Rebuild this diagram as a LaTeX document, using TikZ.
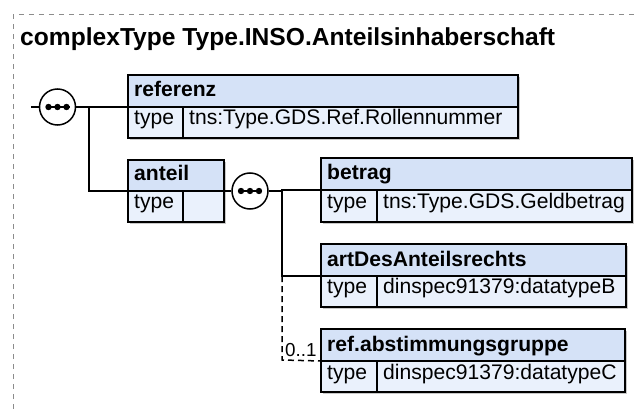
\documentclass[tikz,border=0pt]{standalone}
\usepackage{fontspec}
\setmainfont{Liberation Sans}
\definecolor{hdrc}{HTML}{D5E2F7}
\definecolor{bodyc}{HTML}{EAF1FC}
\definecolor{shadc}{HTML}{C8C8C8}
\definecolor{framec}{HTML}{8C8C8C}
\tikzset{
  conn/.style={line width=1.5pt, black},
  optconn/.style={line width=1.5pt, black, dash pattern=on 6pt off 4pt},
  boxline/.style={line width=1.5pt, black},
  lbl/.style={inner sep=0pt, anchor=base west, font=\fontsize{21.1}{24}\selectfont},
  seqc/.style={circle, draw, line width=1.5pt, fill=white, minimum size=36pt, inner sep=0pt},
}
\newcommand{\Elem}[9]{%
  \fill[shadc] (#2+2,#5+2) rectangle (#3+2,#7+2);
  \draw[boxline, fill=hdrc] (#2,#5) rectangle (#3,#6);
  \draw[boxline, fill=bodyc] (#2,#6) rectangle (#3,#7);
  \draw[boxline] (#4,#6) -- (#4,#7);
  \node[lbl] (#1-n) at (#2+6,#6-10) {\bfseries #8};
  \node[lbl] (#1-t) at (#2+6,#7-13) {type};
  \node[lbl] (#1-v) at (#4+6,#7-13) {#9};
  \coordinate (#1-l) at (#2,#6);
  \coordinate (#1-r) at (#3,#6);
}
\newcommand{\SeqDots}[1]{%
  \draw[line width=1.5pt] ($(#1)+(-12,0)$) -- ($(#1)+(12,0)$);
  \fill ($(#1)+(-9,0)$) circle (3.2);
  \fill (#1) circle (3.2);
  \fill ($(#1)+(9,0)$) circle (3.2);
}
\usetikzlibrary{calc}
\begin{document}
\begin{tikzpicture}[x=1pt,y=-1pt]
\useasboundingbox (0,0) rectangle (638,409);
% frame
\draw[framec, line width=1pt, dash pattern=on 5pt off 5pt] (13,409) -- (13,15) -- (638,15);
\node[inner sep=0pt, anchor=base west, font=\fontsize{24.6}{28}\selectfont\bfseries] (title) at (20,46) {complexType Type.INSO.Anteilsinhaberschaft};

% elements
\Elem{ref}{128}{518}{183}{75}{107}{138}{referenz}{tns:Type.GDS.Ref.Rollennummer}
\Elem{ant}{128}{224}{183}{160}{191}{222}{anteil}{}
\Elem{bet}{321}{632}{377}{158}{190}{222}{betrag}{tns:Type.GDS.Geldbetrag}
\Elem{art}{321}{626}{377}{244}{276}{307}{artDesAnteilsrechts}{dinspec91379:datatypeB}
\Elem{abs}{321}{625}{377}{329}{361}{392}{ref.abstimmungsgruppe}{dinspec91379:datatypeC}

% sequence compositors
\node[seqc] (s1) at (57.5,107) {};
\node[seqc] (s2) at (250,191) {};
\SeqDots{s1}
\SeqDots{s2}

% connectors
\coordinate (in) at (31,107);
\coordinate (b1) at (89,107);
\coordinate (b1d) at (89,191);
\coordinate (b2) at (282,191);
\coordinate (b2a) at (282,276);
\coordinate (b2d) at (282,360);
\draw[conn] (in) -- (s1.west);
\draw[conn] (s1.east) -- (ref-l);
\draw[conn] (b1) -- (b1d) -- (ant-l);
\draw[conn] (ant-r) -- (s2.west);
\draw[conn] (s2.east) -- (b2) |- (bet-l);
\draw[conn] (b2) -- (b2a) -- (art-l);
\draw[optconn] (b2a) -- (b2d) -- (abs-l);
\node[inner sep=0pt, anchor=base west, font=\fontsize{18.8}{22}\selectfont] (card) at (285,356) {0..1};
\end{tikzpicture}
\end{document}
